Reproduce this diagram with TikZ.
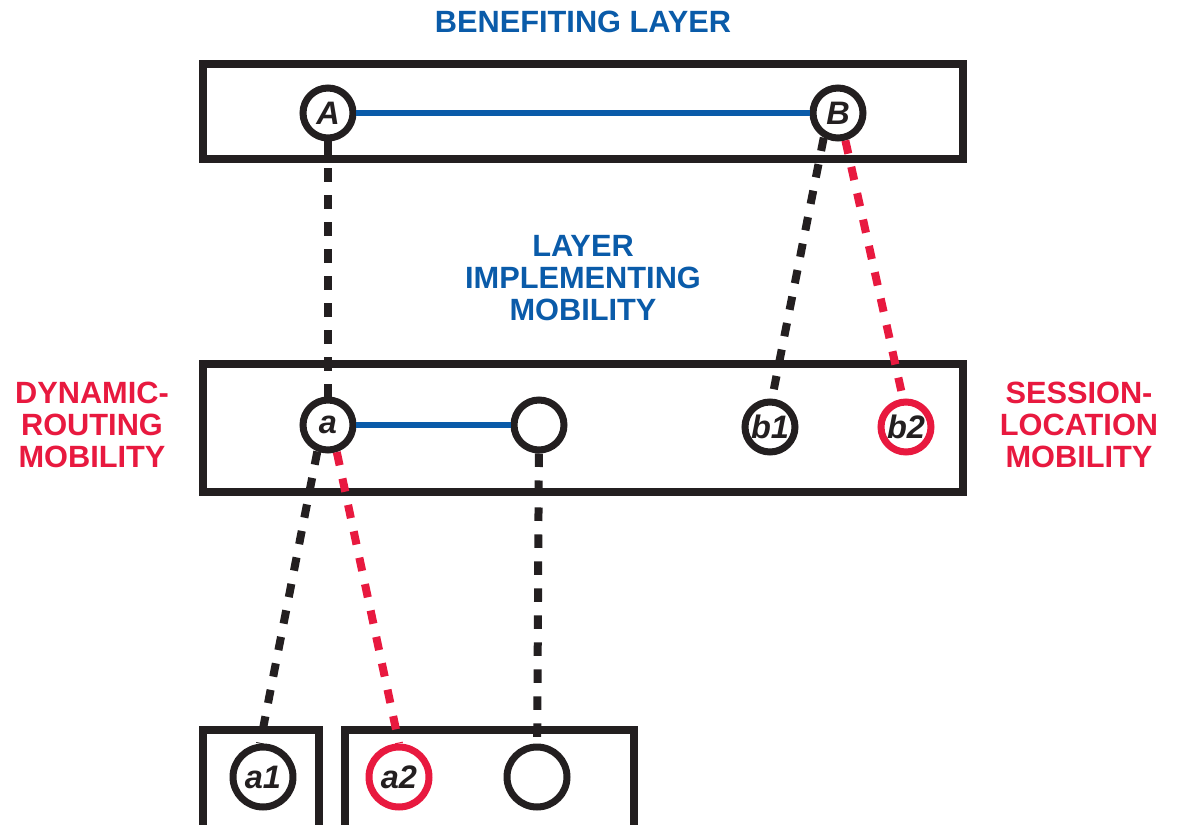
\documentclass[tikz,border=0pt]{standalone}
\usepackage{fontspec}
\setmainfont{Liberation Sans}
\usetikzlibrary{positioning}
\definecolor{lblue}{HTML}{0A5BA9}
\definecolor{lred}{HTML}{E8193F}
\definecolor{lblack}{HTML}{231F20}

\begin{document}
\begin{tikzpicture}[x=0.02cm, y=-0.02cm, font=\fontsize{17.5}{18}\selectfont\bfseries,
  layer/.style={draw=lblack, line width=0.16cm, inner sep=0pt},
  site/.style={circle, draw=lblack, fill=white, line width=0.14cm, minimum size=1cm, inner sep=0pt, text=lblack, font=\fontsize{18.5}{19}\selectfont\bfseries\itshape},
  bigsite/.style={site, minimum size=1.2cm},
  hot/.style={draw=lred},
  link/.style={lblue, line width=0.13cm},
  tie/.style={lblack, line width=0.16cm, dash pattern=on 0.27cm off 0.27cm},
  redtie/.style={tie, lred},
  title/.style={lblue, align=center, inner sep=0pt},
  side/.style={lred, align=center, inner sep=0pt}]
\useasboundingbox (0,0) rectangle (1178,825);
\node[title] (benefit) at (583,22) {BENEFITING LAYER};
\node[title] (impl) at (583,278) {LAYER\\IMPLEMENTING\\MOBILITY};
\node[side] (dyn) at (92,425) {DYNAMIC-\\ROUTING\\MOBILITY};
\node[side] (sess) at (1079,425) {SESSION-\\LOCATION\\MOBILITY};
\node[layer, minimum width=15.21cm, minimum height=1.9cm] (upper) at (583,111.5) {};
\node[layer, minimum width=15.21cm, minimum height=2.56cm] (middle) at (583,428) {};
\node[layer, minimum width=2.32cm, minimum height=3cm] (lowleft) at (261,805) {};
\node[layer, minimum width=5.78cm, minimum height=3cm] (lowright) at (489.5,805) {};
\node[site] (A) at (328,113) {A};
\node[site] (B) at (838,113) {B};
\node[site] (a) at (328,425) {a};
\node[site] (m) at (539,425) {};
\node[site] (b1) at (770,427) {b1};
\node[site, hot] (b2) at (906,427) {b2};
\node[bigsite] (a1) at (263,777) {a1};
\node[bigsite, hot] (a2) at (399,777) {a2};
\node[bigsite] (n) at (537,777) {};
\draw[link] (A) -- (B);
\draw[link] (a) -- (m);
\draw[tie] (A) -- (a);
\draw[tie] (B.240) -- (b1.86);
\draw[redtie] (B.285) -- (b2.96);
\draw[tie] (a.248) -- (a1.95);
\draw[redtie] (a.288) -- (a2.90);
\draw[tie] (m) -- (n);
\end{tikzpicture}
\end{document}
